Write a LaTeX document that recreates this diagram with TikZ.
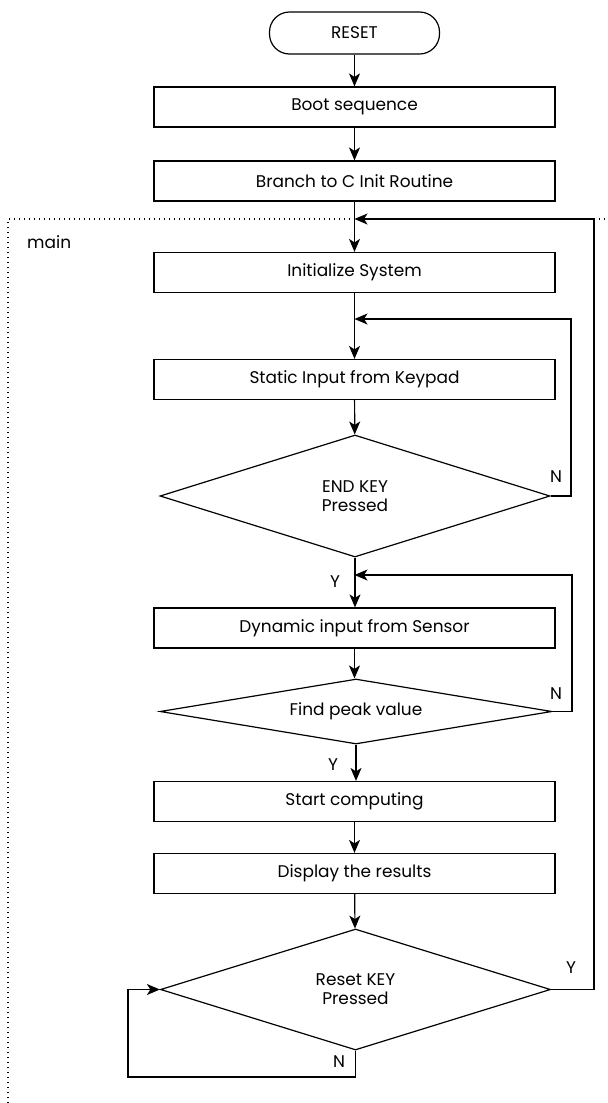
\documentclass[tikz,border=0pt]{standalone}
\usepackage{fontspec}
\setmainfont{Poppins}
\usetikzlibrary{shapes.geometric,arrows.meta}
\begin{document}
\begin{tikzpicture}[x=1bp,y=-1bp,
  every node/.style={font=\fontsize{17}{19}\selectfont},
  box/.style={draw, line width=1.2bp, minimum width=401bp, minimum height=40bp, inner sep=0pt},
  startbox/.style={draw, line width=1.2bp, rounded corners=20bp, minimum width=170bp, minimum height=42bp, inner sep=0pt},
  decision/.style={draw, line width=1.2bp, diamond, shape aspect=6, inner sep=0pt, align=center},
  conn/.style={line width=1.2bp},
  arr/.style={conn, -{Stealth[length=13bp,width=11bp,inset=3.5bp]}},
  lbl/.style={inner sep=0pt},
  frame/.style={line width=1.2bp, dash pattern=on 1.2bp off 3.8bp}
]
\useasboundingbox (0,0) rectangle (608,1103);
\fill[white] (0,0) rectangle (608,1103);

\draw[frame] (8,1103) -- (8,219) -- (608,219);
\node[lbl, anchor=west] (mainlbl) at (27,242) {main};

\node[startbox] (reset) at (354.5,33) {RESET};
\node[box] (boot) at (354.5,107) {Boot sequence};
\node[box] (branch) at (354.5,181) {Branch to C Init Routine};
\node[box] (init) at (354.5,272.5) {Initialize System};
\node[box] (static) at (354.5,379.5) {Static Input from Keypad};
\node[decision, minimum width=390bp, minimum height=122bp] (endkey) at (355,496) {END KEY\\Pressed};
\node[box] (dyn) at (354.5,628) {Dynamic input from Sensor};
\node[decision, minimum width=392bp, minimum height=65bp] (peak) at (356,711.5) {Find peak value};
\node[box] (start) at (354.5,801.5) {Start computing};
\node[box] (disp) at (354.5,873.5) {Display the results};
\node[decision, minimum width=390bp, minimum height=121bp] (rkey) at (355.5,989.5) {Reset KEY\\Pressed};

\coordinate (j1) at (354.5,219);
\coordinate (j2) at (354.5,319);
\coordinate (j3) at (354.5,575);
\coordinate (c1) at (594,219);
\coordinate (c2) at (571,319);
\coordinate (c3) at (572,575);
\coordinate (c4) at (128,1077);

\draw[arr] (reset) -- (boot);
\draw[arr] (boot) -- (branch);
\draw[arr] (branch) -- (init);
\draw[arr] (init) -- (static);
\draw[arr] (static) -- (endkey);
\draw[arr] (endkey.south) -- (dyn.north -| endkey.south);
\draw[arr] (dyn) -- (dyn.south |- peak.north);
\draw[arr] (peak.south) -- (start.north -| peak.south);
\draw[arr] (start) -- (disp);
\draw[arr] (disp) -- (rkey);

\draw[arr] (endkey.east) -| (c2) -- (j2);
\draw[arr] (peak.east) -| (c3) -- (j3);
\draw[arr] (rkey.east) -| (c1) -- (j1);
\draw[arr] (rkey.south) |- (c4) |- (rkey.west);

\node[lbl] (n1) at (556,477) {N};
\node[lbl] (y1) at (335,582) {Y};
\node[lbl] (n2) at (556,694) {N};
\node[lbl] (y2) at (333,765) {Y};
\node[lbl] (y3) at (571,968) {Y};
\node[lbl] (n3) at (339,1062) {N};
\end{tikzpicture}
\end{document}
